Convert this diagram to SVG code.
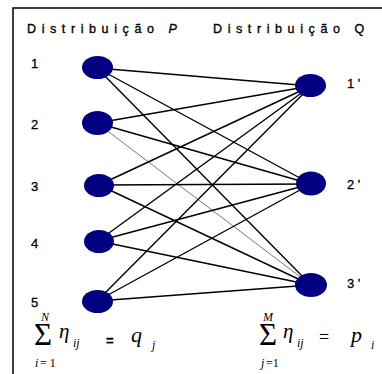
<svg xmlns="http://www.w3.org/2000/svg" width="382" height="374" viewBox="0 0 382 374">
<defs>
<marker id="ah" viewBox="0 0 10 10" refX="10" refY="5" markerWidth="7" markerHeight="6" markerUnits="userSpaceOnUse" orient="auto-start-reverse" preserveAspectRatio="none">
<path d="M0,0 L10,5 L0,10 Z" fill="#000"/>
</marker>
<style>
.node{fill:#000080}
.e{stroke:#000;stroke-width:1.4;fill:none;marker-start:url(#ah);marker-end:url(#ah)}
.thin{stroke:#555;stroke-width:0.8}
.hd{font-family:"Liberation Sans",Arial,sans-serif;font-size:12.5px;letter-spacing:5.6px;fill:#000;stroke:#000;stroke-width:0.35}
.lb{font-family:"Liberation Sans",Arial,sans-serif;font-size:13px;fill:#000;stroke:#000;stroke-width:0.3}
.m{font-family:"Liberation Serif","Times New Roman",serif;fill:#000}
.it{font-style:italic}
.sm{font-size:12px}
.sig{font-size:31px;font-weight:normal}
</style>
</defs>
<rect width="382" height="374" fill="#fff"/>
<path d="M13,374 V8 H382" stroke="#000" stroke-width="1.5" fill="none"/>
<text class="hd" x="27" y="33">Distribuição <tspan font-style="italic">P</tspan></text>
<text class="hd" x="213" y="33">Distribuição Q</text>
<g id="connectors">
<line class="e" x1="97" y1="68" x2="311" y2="86"/>
<line class="e" x1="97" y1="68" x2="311" y2="184"/>
<line class="e" x1="97" y1="68" x2="311" y2="285"/>
<line class="e" x1="97" y1="123" x2="311" y2="86"/>
<line class="e" x1="97" y1="123" x2="311" y2="184"/>
<line class="e thin" x1="97" y1="123" x2="311" y2="285"/>
<line class="e" x1="99" y1="185" x2="311" y2="86"/>
<line class="e" x1="99" y1="185" x2="311" y2="184"/>
<line class="e" x1="99" y1="185" x2="311" y2="285"/>
<line class="e" x1="98" y1="241" x2="311" y2="86"/>
<line class="e" x1="98" y1="241" x2="311" y2="184"/>
<line class="e" x1="98" y1="241" x2="311" y2="285"/>
<line class="e" x1="97" y1="301" x2="311" y2="86"/>
<line class="e" x1="97" y1="301" x2="311" y2="184"/>
<line class="e" x1="97" y1="301" x2="311" y2="285"/>
</g>
<g id="p1"><ellipse class="node" cx="97.5" cy="67.5" rx="15.5" ry="11.5"/><text class="lb" x="31" y="68">1</text></g>
<g id="p2"><ellipse class="node" cx="97.5" cy="123" rx="15.5" ry="12"/><text class="lb" x="31" y="129">2</text></g>
<g id="p3"><ellipse class="node" cx="99" cy="185.5" rx="15" ry="11.5"/><text class="lb" x="31" y="191">3</text></g>
<g id="p4"><ellipse class="node" cx="99" cy="241.5" rx="15" ry="11.5"/><text class="lb" x="31" y="248">4</text></g>
<g id="p5"><ellipse class="node" cx="97.5" cy="301.5" rx="15.5" ry="11.5"/><text class="lb" x="31" y="307">5</text></g>
<g id="q1"><ellipse class="node" cx="310.5" cy="85.5" rx="15.5" ry="11.5"/><text class="lb" x="347" y="88">1 '</text></g>
<g id="q2"><ellipse class="node" cx="311" cy="183.5" rx="15" ry="12"/><text class="lb" x="347" y="189">2 '</text></g>
<g id="q3"><ellipse class="node" cx="311" cy="285" rx="16" ry="12"/><text class="lb" x="347" y="288">3 '</text></g>
<g id="formula-left">
<text class="m it sm" x="41" y="321">N</text>
<text class="m sig" x="34" y="345">Σ</text>
<text class="m it sm" x="35" y="367">i</text>
<text class="m sm" x="40" y="367">= 1</text>
<text class="m it" x="59" y="338" font-size="21">η</text>
<text class="m it sm" x="73" y="347">ij</text>
<text class="lb" x="106" y="345" font-size="16" font-weight="bold">=</text>
<text class="m it" x="131" y="342" font-size="22">q</text>
<text class="m it sm" x="152" y="349">j</text>
</g>
<g id="formula-right">
<text class="m it sm" x="263" y="321">M</text>
<text class="m sig" x="259" y="345">Σ</text>
<text class="m it sm" x="261" y="367">j</text>
<text class="m sm" x="266" y="367">=1</text>
<text class="m it" x="283" y="338" font-size="21">η</text>
<text class="m it sm" x="297" y="347">ij</text>
<text class="m" x="319" y="343" font-size="18">=</text>
<text class="m it" x="351" y="342" font-size="22">p</text>
<text class="m it sm" x="371" y="349">i</text>
</g>
</svg>
